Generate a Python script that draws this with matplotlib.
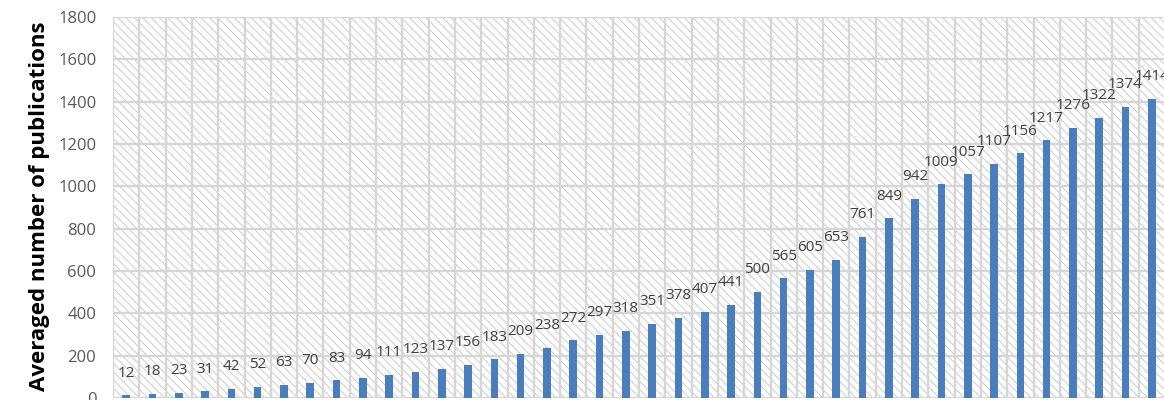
import matplotlib
matplotlib.use("Agg")
import matplotlib.pyplot as plt
from matplotlib.patches import Rectangle

values = [12, 18, 23, 31, 42, 52, 63, 70, 83, 94, 111, 123, 137, 156, 183,
          209, 238, 272, 297, 318, 351, 378, 407, 441, 500, 565, 605, 653,
          761, 849, 942, 1009, 1057, 1107, 1156, 1217, 1276, 1322, 1374, 1414]
yticks = [0, 200, 400, 600, 800, 1000, 1200, 1400, 1600, 1800]
ylabel = "Averaged number of publications"

plt.rcParams['font.family'] = ['Open Sans', 'DejaVu Sans']
plt.rcParams['hatch.color'] = '#cccccc'
plt.rcParams['hatch.linewidth'] = 0.7

W, H = 1164, 400
fig = plt.figure(figsize=(W / 100, H / 100), dpi=100)
ax = fig.add_axes([113 / W, 2 / H, 1052 / W, 381 / H])

n = len(values)
x = list(range(n))

# hatched background
bg = Rectangle((0, 0), 1, 1, transform=ax.transAxes, facecolor='white',
               edgecolor='#cccccc', hatch='\\\\\\\\', linewidth=0, zorder=0)
ax.add_patch(bg)

ax.set_xlim(-0.5, n - 0.5)
ax.set_ylim(0, 1800)

# gridlines
for b in range(n + 1):
    ax.axvline(b - 0.5, color='#d6d6d6', lw=1.7, zorder=1)
for t in yticks:
    ax.axhline(t, color='#d6d6d6', lw=1.7, zorder=1)

ax.bar(x, values, width=0.29, color='#4a7ebb', zorder=3)

for xi, v in zip(x, values):
    ax.annotate(str(v), (xi, v), xytext=(0, 16), textcoords='offset points',
                ha='center', va='center', fontsize=11, color='#404040',
                zorder=4, annotation_clip=False)

ax.set_yticks(yticks)
ax.set_yticklabels([str(t) for t in yticks], fontsize=12, color='#595959')
ax.tick_params(axis='y', length=0, pad=12)
ax.set_xticks([])
for s in ax.spines.values():
    s.set_visible(False)

fig.text(40 / W, 194 / H, ylabel, rotation=90, ha='center', va='center',
         fontsize=16, fontweight='bold', color='black')

fig.savefig('out.png', dpi=100)
